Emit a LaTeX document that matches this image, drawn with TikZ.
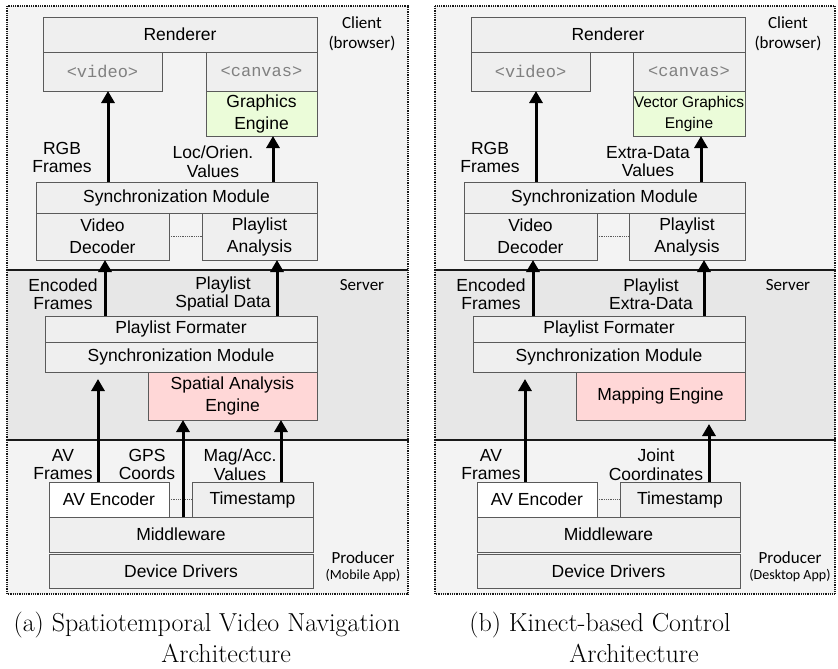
\documentclass[tikz,border=0pt]{standalone}
\usepackage{fontspec}
\usepackage{tikz}
\usetikzlibrary{arrows.meta}

\newfontfamily\boxfont{Liberation Sans}
\newfontfamily\tagfont{Carlito}
\newfontfamily\codefont{Liberation Mono}

\definecolor{panelfill}{HTML}{F3F3F3}
\definecolor{serverfill}{HTML}{E7E7E7}
\definecolor{layerfill}{HTML}{EFEFEF}
\definecolor{layerline}{HTML}{5A5A5A}
\definecolor{enginegreen}{HTML}{EBFCD9}
\definecolor{enginered}{HTML}{FFD7D7}

\tikzset{
  panel/.style={draw=black!90, line width=1.1pt, dash pattern=on 1pt off 0.8pt},
  layer/.style={draw=layerline, fill=layerfill, line width=0.8pt, inner sep=0pt, outer sep=0pt,
    align=center, font=\boxfont\fontsize{17.5}{22}\selectfont},
  tagbox/.style={layer, font=\codefont\fontsize{17}{20}\selectfont, text=gray},
  lbl/.style={align=center, inner sep=0pt, font=\boxfont\fontsize{17.5}{18.5}\selectfont},
  side/.style={align=center, inner sep=0pt, font=\tagfont\fontsize{17}{20}\selectfont},
  flow/.style={-{Triangle[length=12pt,width=13pt]}, line width=3pt},
  link/.style={densely dotted, draw=layerline, line width=0.8pt},
  caption/.style={align=center, inner sep=0pt, font=\fontsize{26}{31}\selectfont}
}

\begin{document}
\begin{tikzpicture}[x=1pt, y=-1pt]
\useasboundingbox (0,0) rectangle (838,669);

% ---------- (a) spatiotemporal navigation ----------
\fill[panelfill] (7,6) rectangle (408,270);
\fill[serverfill] (7,270) rectangle (408,440);
\fill[panelfill] (7,440) rectangle (408,594);
\draw[panel] (7,6) rectangle (408,270);
\draw[panel] (7,270) rectangle (408,440);
\draw[panel] (7,440) rectangle (408,594);

\node[side] (clienta) at (362,34) {Client\\(browser)};
\node[side] (servera) at (362,285) {Server};
\node[side] (producera) at (363,567) {Producer\\[-4pt]{\fontsize{14}{16}\selectfont(Mobile App)}};

% client
\node[layer, minimum width=274, minimum height=35] (renda) at (180,34.5) {Renderer};
\node[tagbox, minimum width=119, minimum height=39] (videoa) at (102.5,71.5) {<video>};
\node[tagbox, minimum width=111, minimum height=39] (canvasa) at (261.5,71.5) {<canvas>};
\node[layer, fill=enginegreen, minimum width=111, minimum height=45] (gfxa) at (261.5,113.5) {Graphics\\Engine};
\node[layer, minimum width=281, minimum height=31] (synca) at (176.5,197.5) {Synchronization Module};
\node[layer, minimum width=133, minimum height=47] (vdeca) at (102.5,236.5) {Video\\Decoder};
\node[layer, minimum width=115, minimum height=47] (plana) at (259.5,236.5) {Playlist\\Analysis};
\draw[link] (vdeca.east) -- (plana.west);

\coordinate (xa1) at (108,0);
\coordinate (xa2) at (273,0);
\draw[flow] (synca.north -| xa1) -- (videoa.south -| xa1);
\draw[flow] (synca.north -| xa2) -- (gfxa.south -| xa2);
\node[lbl] (rgba) at (62,157.5) {RGB\\Frames};
\node[lbl] (loca) at (213,161.5) {Loc/Orien.\\Values};

% server
\node[layer, minimum width=272, minimum height=26] (forma) at (181,329) {Playlist Formater};
\node[layer, minimum width=272, minimum height=30] (ssynca) at (181,357) {Synchronization Module};
\node[layer, fill=enginered, minimum width=169, minimum height=48] (spata) at (232.5,396) {Spatial Analysis\\Engine};

\coordinate (xa3) at (105,0);
\coordinate (xa4) at (277,0);
\draw[flow] (forma.north -| xa3) -- (vdeca.south -| xa3);
\draw[flow] (forma.north -| xa4) -- (plana.south -| xa4);
\node[lbl] (enca) at (63,294) {Encoded\\Frames};
\node[lbl] (pspa) at (223,294) {Playlist\\Spatial Data};

% producer
\node[layer, fill=white, minimum width=120, minimum height=35] (avenca) at (109,499.5) {AV Encoder};
\node[layer, minimum width=121, minimum height=35] (tsa) at (252.5,499.5) {Timestamp};
\node[layer, minimum width=264, minimum height=35] (mwa) at (181,534.5) {Middleware};
\node[layer, minimum width=264, minimum height=34] (dda) at (181,571) {Device Drivers};
\draw[link] (avenca.east) -- (tsa.west);

\coordinate (xa5) at (98,0);
\coordinate (xa6) at (183,0);
\coordinate (xa7) at (281,0);
\draw[flow, shorten >=7pt] (avenca.north -| xa5) -- (ssynca.south -| xa5);
\draw[flow] (mwa.north -| xa6) -- (spata.south -| xa6);
\draw[flow] (tsa.north -| xa7) -- (spata.south -| xa7);
\node[lbl] (ava) at (63,464.5) {AV\\Frames};
\node[lbl] (gpsa) at (147,464.5) {GPS\\Coords};
\node[lbl] (maga) at (240,464.5) {Mag/Acc.\\Values};

\node[caption] (capa) at (207,637.5)
  {(a) Spatiotemporal Video Navigation\\\hphantom{(a) }Architecture};

% ---------- (b) kinect-based control ----------
\fill[panelfill] (435,6) rectangle (835,270);
\fill[serverfill] (435,270) rectangle (835,440);
\fill[panelfill] (435,440) rectangle (835,594);
\draw[panel] (435,6) rectangle (835,270);
\draw[panel] (435,270) rectangle (835,440);
\draw[panel] (435,440) rectangle (835,594);

\node[side] (clientb) at (788,34) {Client\\(browser)};
\node[side] (serverb) at (788,285) {Server};
\node[side] (producerb) at (790,567) {Producer\\[-4pt]{\fontsize{14}{16}\selectfont(Desktop App)}};

% client
\node[layer, minimum width=274, minimum height=35] (rendb) at (608,34.5) {Renderer};
\node[tagbox, minimum width=119, minimum height=39] (videob) at (530.5,71.5) {<video>};
\node[tagbox, minimum width=112, minimum height=39] (canvasb) at (689,71.5) {<canvas>};
\node[layer, fill=enginegreen, minimum width=112, minimum height=45,
  font=\boxfont\fontsize{15.5}{21}\selectfont] (gfxb) at (689,113.5) {Vector Graphics\\Engine};
\node[layer, minimum width=281, minimum height=31] (syncb) at (604.5,197.5) {Synchronization Module};
\node[layer, minimum width=133, minimum height=47] (vdecb) at (530.5,236.5) {Video\\Decoder};
\node[layer, minimum width=116, minimum height=47] (planb) at (687,236.5) {Playlist\\Analysis};
\draw[link] (vdecb.east) -- (planb.west);

\coordinate (xb1) at (536,0);
\coordinate (xb2) at (701,0);
\draw[flow] (syncb.north -| xb1) -- (videob.south -| xb1);
\draw[flow] (syncb.north -| xb2) -- (gfxb.south -| xb2);
\node[lbl] (rgbb) at (490,157.5) {RGB\\Frames};
\node[lbl] (extb) at (648,161.5) {Extra-Data\\Values};

% server
\node[layer, minimum width=272, minimum height=26] (formb) at (609,329) {Playlist Formater};
\node[layer, minimum width=272, minimum height=30] (ssyncb) at (609,357) {Synchronization Module};
\node[layer, fill=enginered, minimum width=169, minimum height=48] (mapb) at (660.5,396) {Mapping Engine};

\coordinate (xb3) at (533,0);
\coordinate (xb4) at (704,0);
\draw[flow] (formb.north -| xb3) -- (vdecb.south -| xb3);
\draw[flow] (formb.north -| xb4) -- (planb.south -| xb4);
\node[lbl] (encb) at (491,294) {Encoded\\Frames};
\node[lbl] (pexb) at (651,294) {Playlist\\Extra-Data};

% producer
\node[layer, fill=white, minimum width=120, minimum height=35] (avencb) at (537,499.5) {AV Encoder};
\node[layer, minimum width=120, minimum height=35] (tsb) at (680,499.5) {Timestamp};
\node[layer, minimum width=263, minimum height=35] (mwb) at (608.5,534.5) {Middleware};
\node[layer, minimum width=263, minimum height=34] (ddb) at (608.5,571) {Device Drivers};
\draw[link] (avencb.east) -- (tsb.west);

\coordinate (xb5) at (525,0);
\coordinate (xb6) at (709,0);
\draw[flow, shorten >=7pt] (avencb.north -| xb5) -- (ssyncb.south -| xb5);
\draw[flow, shorten >=4pt] (tsb.north -| xb6) -- (mapb.south -| xb6);
\node[lbl] (avb) at (491,464.5) {AV\\Frames};
\node[lbl] (jntb) at (656,464.5) {Joint\\Coordinates};

\node[caption] (capb) at (600,637.5)
  {(b) Kinect-based Control\\\hspace*{68pt}Architecture};
\end{tikzpicture}
\end{document}
